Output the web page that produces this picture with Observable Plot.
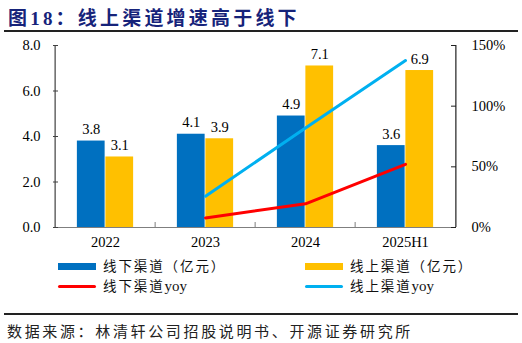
<!DOCTYPE html>
<html>
<head>
<meta charset="utf-8">
<script src="https://cdn.jsdelivr.net/npm/d3@7"></script>
<script src="https://cdn.jsdelivr.net/npm/@observablehq/plot@0.6"></script>
<style>
  html, body { margin: 0; padding: 0; background: #fff; }
  #page { position: relative; width: 522px; height: 343px; overflow: hidden; font-family: "Noto Sans CJK SC", sans-serif; }
  #title { position: absolute; left: 8px; top: 3px; font-size: 19px; font-weight: bold; color: #16237a; letter-spacing: 3.2px; font-family: "Liberation Serif", "Noto Sans CJK SC", serif; white-space: nowrap; }
  .hr { position: absolute; left: 4px; width: 514px; height: 1.5px; background: #222; }
  #chart { position: absolute; left: 0; top: 30px; }
  .lg { position: absolute; font-size: 13.5px; letter-spacing: 1.9px; color: #111; white-space: nowrap; line-height: 1; }
  .lg .en { font-family: "Liberation Serif", serif; font-size: 15px; letter-spacing: 0; }
  .sw { position: absolute; }
  #source { position: absolute; left: 7px; top: 323px; font-size: 15px; letter-spacing: 2.65px; color: #222; white-space: nowrap; line-height: 1; }
</style>
</head>
<body>
<div id="page">
  <div id="title">图18：线上渠道增速高于线下</div>
  <div class="hr" style="top:30px"></div>
  <div id="chart"></div>
  <div id="legend"></div>
  <div class="hr" style="top:313px"></div>
  <div id="source">数据来源：林清轩公司招股说明书、开源证券研究所</div>
</div>
<script>
// Revenue by channel (亿元) and year-on-year growth (%)
const years = ["2022", "2023", "2024", "2025H1"];
const offline = [3.8, 4.1, 4.9, 3.6];
const online = [3.1, 3.9, 7.1, 6.9];
const yoyYears = ["2023", "2024", "2025H1"];
const offlineYoy = [7.9, 19.5, 52.0];
const onlineYoy = [25.8, 82.0, 137.6];
const leftTicks = [0, 2, 4, 6, 8];
const rightTicks = [0, 50, 100, 150];

const colors = {offline: "#0070c0", online: "#ffc000", offlineYoy: "#ff0000", onlineYoy: "#00b0f0"};

const W = 522, H = 225;
const mL = 53, mR = 66, mT = 15, mB = 28;
const plotW = W - mL - mR, plotH = H - mT - mB;
const band = plotW / years.length;
const barW = 28.5;

const yMax = 8, pctMax = 150;
const toLeft = (p) => p * yMax / pctMax;   // map % onto the left axis units

const bars = years.map((year, i) => ({year, offline: offline[i], online: online[i]}));
const yoy = yoyYears.map((year, i) => ({year, offline: toLeft(offlineYoy[i]), online: toLeft(onlineYoy[i])}));

const serif = "Liberation Serif, serif";

const chart = Plot.plot({
  width: W, height: H,
  marginLeft: mL, marginRight: mR, marginTop: mT, marginBottom: mB,
  style: {fontFamily: serif, fontSize: "14.5px", color: "#000", background: "transparent"},
  x: {domain: years, padding: 0},
  y: {domain: [0, yMax]},
  marks: [
    Plot.barY(bars, {x: "year", y: "offline", fill: colors.offline, insetLeft: band / 2 - barW, insetRight: band / 2}),
    Plot.barY(bars, {x: "year", y: "online", fill: colors.online, insetLeft: band / 2, insetRight: band / 2 - barW}),
    Plot.text(bars, {x: "year", y: "offline", text: d => d.offline.toFixed(1), dx: -barW / 2, dy: -7, lineAnchor: "bottom", fontSize: 14.5, fill: "#000"}),
    Plot.text(bars, {x: "year", y: "online", text: d => d.online.toFixed(1), dx: barW / 2, dy: -7, lineAnchor: "bottom", fontSize: 14.5, fill: "#000"}),
    Plot.line(yoy, {x: "year", y: "offline", stroke: colors.offlineYoy, strokeWidth: 3}),
    Plot.line(yoy, {x: "year", y: "online", stroke: colors.onlineYoy, strokeWidth: 3}),
    // axis lines
    Plot.ruleY([0], {stroke: "#7f7f7f", strokeWidth: 1.2}),
    Plot.ruleX([years[0]], {dx: -band / 2, stroke: "#404040", strokeWidth: 1.2}),
    Plot.ruleX([years[years.length - 1]], {dx: band / 2, stroke: "#202020", strokeWidth: 1.2}),
    // inward ticks
    Plot.tickY(leftTicks, {y: d => d, insetRight: plotW - 5, stroke: "#404040"}),
    Plot.tickY(rightTicks.map(toLeft), {y: d => d, insetLeft: plotW - 5, stroke: "#202020"}),
    Plot.tickX(years.slice(1), {x: d => d, dx: -band / 2, insetTop: plotH - 5, stroke: "#7f7f7f"}),
    // labels
    Plot.axisX({tickSize: 0, tickPadding: 9, label: null, fontSize: 14.5}),
    Plot.axisY({ticks: leftTicks, tickSize: 0, tickPadding: 13, tickFormat: d3.format(".1f"), label: null, fontSize: 14.5}),
    Plot.axisY({anchor: "right", ticks: rightTicks.map(toLeft), tickSize: 0, tickPadding: 15, tickFormat: d => Math.round(d * pctMax / yMax) + "%", label: null, fontSize: 14.5})
  ]
});
document.getElementById("chart").appendChild(chart);

// Legend below the plot
const legendItems = [
  {label: "线下渠道（亿元）", color: colors.offline, kind: "rect", x: 58, y: 266},
  {label: "线上渠道（亿元）", color: colors.online, kind: "rect", x: 305, y: 266},
  {label: "线下渠道", en: "yoy", color: colors.offlineYoy, kind: "line", x: 58, y: 286},
  {label: "线上渠道", en: "yoy", color: colors.onlineYoy, kind: "line", x: 305, y: 286}
];
const legend = document.getElementById("legend");
for (const item of legendItems) {
  const sw = document.createElement("div");
  sw.className = "sw";
  const h = item.kind === "rect" ? 7 : 3;
  Object.assign(sw.style, {left: item.x + "px", top: (item.y - h / 2) + "px", width: "38px", height: h + "px", background: item.color, borderRadius: item.kind === "line" ? "2px" : "0"});
  legend.appendChild(sw);
  const t = document.createElement("div");
  t.className = "lg";
  t.style.left = (item.x + 45) + "px";
  t.style.top = (item.y - 7) + "px";
  t.textContent = item.label;
  if (item.en) {
    const s = document.createElement("span");
    s.className = "en";
    s.textContent = item.en;
    t.appendChild(s);
  }
  legend.appendChild(t);
}
</script>
</body>
</html>
